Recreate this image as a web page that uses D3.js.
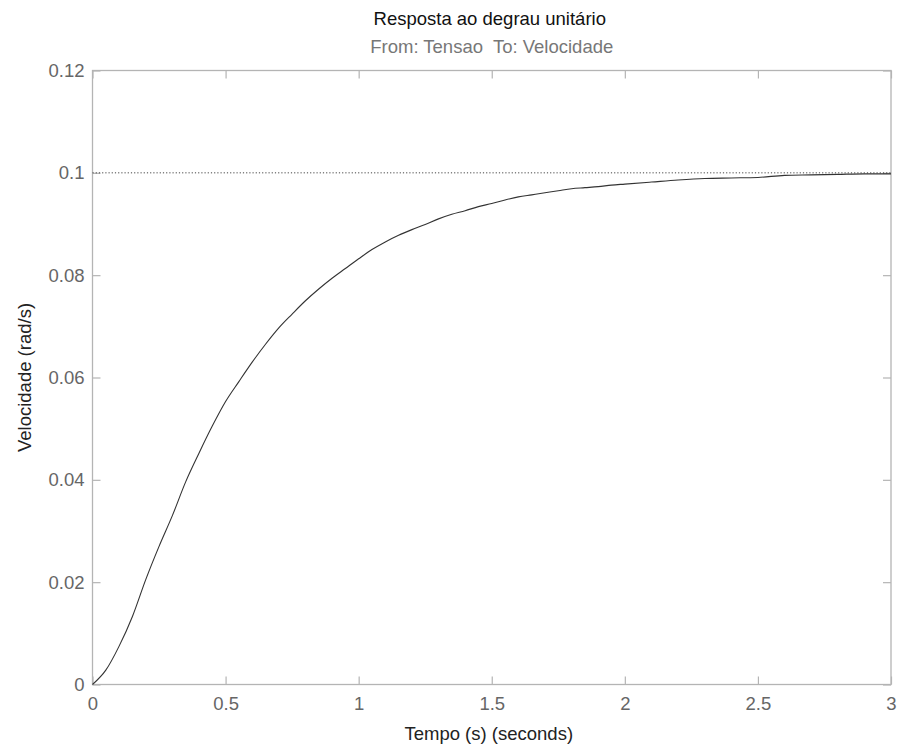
<!DOCTYPE html>
<html>
<head>
<meta charset="utf-8">
<script src="https://cdn.jsdelivr.net/npm/d3@7"></script>
<style>
  html, body { margin: 0; padding: 0; background: #fff; }
  svg { display: block; font-family: "Liberation Sans", Arial, Helvetica, sans-serif; }
</style>
</head>
<body>
<svg id="chart" width="901" height="749"></svg>
<script>
// ---- data ----
const timeS = [0, 0.05, 0.1, 0.15, 0.2, 0.25, 0.3, 0.35, 0.4, 0.45, 0.5, 0.55, 0.6, 0.65, 0.7, 0.75,
  0.8, 0.85, 0.9, 0.95, 1.0, 1.05, 1.1, 1.15, 1.2, 1.25, 1.3, 1.35, 1.4, 1.45, 1.5, 1.55, 1.6, 1.65,
  1.7, 1.75, 1.8, 1.85, 1.9, 1.95, 2.0, 2.1, 2.2, 2.3, 2.4, 2.5, 2.6, 2.7, 2.8, 2.9, 3.0];
const velocity = [0, 0.0028, 0.0075, 0.0133, 0.0205, 0.0270, 0.0330, 0.0396, 0.0452, 0.0505, 0.0553,
  0.0592, 0.0630, 0.0665, 0.0697, 0.0724, 0.0750, 0.0773, 0.0794, 0.0813, 0.0832, 0.0850, 0.0865,
  0.0878, 0.0889, 0.0899, 0.0910, 0.0919, 0.0926, 0.0934, 0.0940, 0.0947, 0.0953, 0.0957, 0.0961,
  0.0965, 0.0969, 0.0971, 0.0973, 0.0976, 0.0978, 0.0982, 0.0986, 0.0989, 0.0990, 0.0991, 0.0995,
  0.0996, 0.0997, 0.0998, 0.0998];
const steadyState = 0.1;
const xTicks = [0, 0.5, 1, 1.5, 2, 2.5, 3];
const yTicks = [0, 0.02, 0.04, 0.06, 0.08, 0.1, 0.12];
const xTickLabels = ["0", "0.5", "1", "1.5", "2", "2.5", "3"];
const yTickLabels = ["0", "0.02", "0.04", "0.06", "0.08", "0.1", "0.12"];
const titleText = "Resposta ao degrau unitário";
const subtitleText = "From: Tensao  To: Velocidade";
const xLabelText = "Tempo (s) (seconds)";
const yLabelText = "Velocidade (rad/s)";

// ---- layout ----
const L = 92.5, R = 891, T = 70.5, B = 684.5;
const svg = d3.select("#chart");
const x = d3.scaleLinear().domain([0, 3]).range([L, R]);
const y = d3.scaleLinear().domain([0, 0.12]).range([B, T]);
const axisColor = "#b4b4b4";
const tickLen = 8;

// box
svg.append("rect").attr("x", L).attr("y", T).attr("width", R - L).attr("height", B - T)
  .attr("fill", "none").attr("stroke", axisColor).attr("stroke-width", 1.3);

// axes with inward ticks
function styleAxis(g) {
  g.select(".domain").remove();
  g.selectAll(".tick line").attr("stroke", axisColor).attr("stroke-width", 1.2);
}
const xAxisB = d3.axisBottom(x).tickValues(xTicks).tickSize(-tickLen).tickPadding(12)
  .tickFormat((d, i) => xTickLabels[i]);
svg.append("g").attr("transform", `translate(0,${B})`).call(xAxisB).call(styleAxis)
  .call(g => g.selectAll("text").attr("fill", "#666").attr("font-size", 18.5)
    .attr("font-family", "Liberation Sans, Arial, sans-serif"));
svg.append("g").attr("transform", `translate(0,${T})`)
  .call(d3.axisTop(x).tickValues(xTicks).tickSize(-tickLen).tickFormat(""))
  .call(styleAxis);

const yAxisL = d3.axisLeft(y).tickValues(yTicks).tickSize(-tickLen).tickPadding(8)
  .tickFormat((d, i) => yTickLabels[i]);
svg.append("g").attr("transform", `translate(${L},0)`).call(yAxisL).call(styleAxis)
  .call(g => g.selectAll("text").attr("fill", "#666").attr("font-size", 18.5)
    .attr("font-family", "Liberation Sans, Arial, sans-serif"));
svg.append("g").attr("transform", `translate(${R},0)`)
  .call(d3.axisRight(y).tickValues(yTicks).tickSize(-tickLen).tickFormat(""))
  .call(styleAxis);

// steady-state dotted line
svg.append("line").attr("x1", x(0)).attr("x2", x(3)).attr("y1", y(steadyState)).attr("y2", y(steadyState))
  .attr("stroke", "#444").attr("stroke-width", 1).attr("stroke-dasharray", "1.2,2");

// response curve
const pts = timeS.map((t, i) => [t, velocity[i]]);
svg.append("path").datum(pts)
  .attr("fill", "none").attr("stroke", "#333").attr("stroke-width", 1.1)
  .attr("d", d3.line().x(d => x(d[0])).y(d => y(d[1])).curve(d3.curveMonotoneX));

// titles
const cx = (L + R) / 2;
svg.append("text").attr("x", cx - 2).attr("y", 25).attr("text-anchor", "middle")
  .attr("font-size", 18.5).attr("fill", "#111").text(titleText);
svg.append("text").attr("x", cx).attr("y", 53).attr("text-anchor", "middle")
  .attr("font-size", 18.5).attr("fill", "#777").attr("xml:space", "preserve").style("white-space", "pre")
  .text(subtitleText);
svg.append("text").attr("x", cx - 3).attr("y", 740).attr("text-anchor", "middle")
  .attr("font-size", 18.5).attr("fill", "#222").text(xLabelText);
svg.append("text").attr("transform", `translate(31,${(T + B) / 2}) rotate(-90)`)
  .attr("text-anchor", "middle").attr("font-size", 18.5).attr("fill", "#222").text(yLabelText);
</script>
</body>
</html>
